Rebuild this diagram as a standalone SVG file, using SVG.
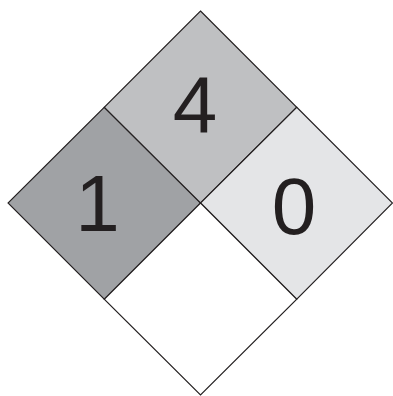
<svg xmlns="http://www.w3.org/2000/svg" width="393" height="396" viewBox="0 0 393 396">
<style>
.q{stroke:#231f20;stroke-width:1.1;stroke-linejoin:miter}
.t{font-family:"Liberation Sans",Arial,sans-serif;font-size:80px;fill:#231f20;text-anchor:middle}
</style>
<rect width="393" height="396" fill="#ffffff"/>
<g id="health">
<polygon class="q" fill="#a0a2a5" points="104.25,107.25 200.5,203 104.25,299.25 8,203"/>
<text class="t" x="97.5" y="231">1</text>
</g>
<g id="flammability">
<polygon class="q" fill="#bfc0c2" points="200.5,11 296.75,107.25 200.5,203 104.25,107.25"/>
<text class="t" x="195" y="131.5">4</text>
</g>
<g id="instability">
<polygon class="q" fill="#e4e5e7" points="296.75,107.25 392.5,203 296.75,299.25 200.5,203"/>
<text class="t" x="294" y="233.5">0</text>
</g>
<g id="special">
<polygon class="q" fill="#ffffff" points="200.5,203 296.75,299.25 200.5,395 104.25,299.25"/>
</g>
<g id="connectors"></g>
</svg>
